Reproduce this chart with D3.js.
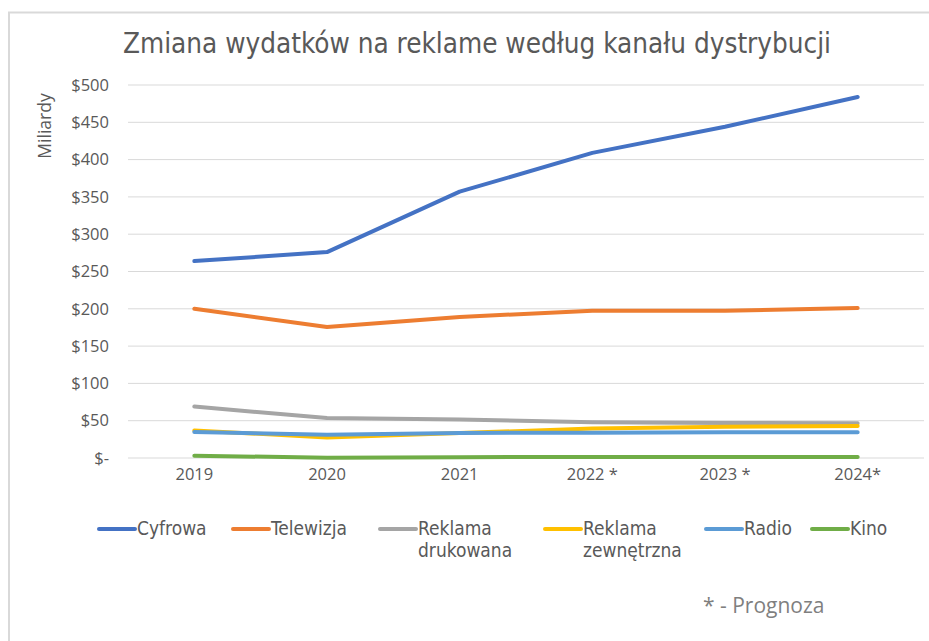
<!DOCTYPE html>
<html><head><meta charset="utf-8">
<script src="https://cdn.jsdelivr.net/npm/d3@7"></script>
<style>
body{margin:0;background:#fff;}
svg{display:block;}
.tick text{font-family:"Open Sans","Noto Sans",sans-serif;}
</style></head>
<body>
<svg id="c" width="929" height="641"></svg>
<script>
const categories = ["2019","2020","2021","2022 *","2023 *","2024*"];
const seriesNames = ["Cyfrowa","Telewizja","Reklama drukowana","Reklama zewnętrzna","Radio","Kino"];
const cyfrowa = [264, 276, 357, 409, 444, 484];
const telewizja = [200, 175.5, 189, 197.5, 197.5, 201];
const drukowana = [69, 53.5, 51.5, 48, 47, 46.5];
const zewnetrzna = [37, 27.5, 33.5, 39.5, 42, 43];
const radio = [35, 31, 33.5, 34, 34.5, 34.5];
const kino = [3, 0.5, 1, 1.5, 1.5, 1.5];
const yTicks = [0,50,100,150,200,250,300,350,400,450,500];
const colors = ["#4472C4","#ED7D31","#A5A5A5","#FFC000","#5B9BD5","#70AD47"];

const seriesValues = [cyfrowa, telewizja, drukowana, zewnetrzna, radio, kino];
const svg = d3.select("#c");

// frame
svg.append("path").attr("d","M9,641 V12.5 H929").attr("fill","none").attr("stroke","#d9d9d9").attr("stroke-width",2);

const x = d3.scaleBand().domain(categories).range([128,924]);
const y = d3.scaleLinear().domain([0,500]).range([458,85]);

const narrow = "'Liberation Sans Narrow','DejaVu Sans Condensed','Roboto',sans-serif";

// title
svg.append("text").attr("x",477).attr("y",53).attr("text-anchor","middle")
  .attr("font-family",narrow).attr("font-weight",300)
  .attr("font-size",28).attr("fill","#595959")
  .attr("textLength",708).attr("lengthAdjust","spacingAndGlyphs")
  .text("Zmiana wydatków na reklame według kanału dystrybucji");

// gridlines
svg.append("g").selectAll("line").data(yTicks).join("line")
  .attr("x1",128).attr("x2",924).attr("y1",d=>y(d)).attr("y2",d=>y(d))
  .attr("stroke","#d9d9d9").attr("stroke-width",1);

// y axis
const yAxis = d3.axisLeft(y).tickValues(yTicks).tickSize(0).tickPadding(0)
  .tickFormat(d => d===0 ? "$-" : "$"+d);
const gy = svg.append("g").attr("transform","translate(109,0)").call(yAxis);
gy.select(".domain").remove();
gy.selectAll("text").attr("font-size",16.5).attr("fill","#595959");

// x axis
const xAxis = d3.axisBottom(x).tickSize(0).tickPadding(0);
const gx = svg.append("g").attr("transform","translate(0,468)").call(xAxis);
gx.select(".domain").remove();
gx.selectAll("text").attr("font-size",16.5).attr("fill","#595959");

// y title
svg.append("text").attr("transform","translate(51,126) rotate(-90)").attr("text-anchor","middle")
  .attr("font-family","'Open Sans','Noto Sans',sans-serif").attr("font-size",17.5).attr("fill","#595959")
  .text("Miliardy");

// lines
const line = d3.line().x((d,i)=>x(categories[i])+x.bandwidth()/2).y(d=>y(d));
svg.append("g").selectAll("path").data(seriesValues).join("path")
  .attr("d",d=>line(d)).attr("fill","none")
  .attr("stroke",(d,i)=>colors[i]).attr("stroke-width",4)
  .attr("stroke-linecap","round").attr("stroke-linejoin","round");

// legend
const legendX = [99, 233, 380, 545, 706, 812];
const lg = svg.append("g").attr("font-family",narrow)
  .attr("font-size",19).attr("fill","#595959");
seriesNames.forEach((name,i)=>{
  const g = lg.append("g").attr("transform",`translate(${legendX[i]},0)`);
  g.append("line").attr("x1",0).attr("x2",36).attr("y1",529).attr("y2",529)
    .attr("stroke",colors[i]).attr("stroke-width",4).attr("stroke-linecap","round");
  const parts = name.startsWith("Reklama") ? ["Reklama", name.split(" ")[1]] : [name];
  parts.forEach((p,j)=>{
    g.append("text").attr("x",38).attr("y",535 + j*22).text(p);
  });
});

// footnote
svg.append("text").attr("x",703).attr("y",613)
  .attr("font-family","'Open Sans','Noto Sans',sans-serif").attr("font-size",21).attr("fill","#7f7f7f")
  .text("* - Prognoza");
</script>
</body></html>
